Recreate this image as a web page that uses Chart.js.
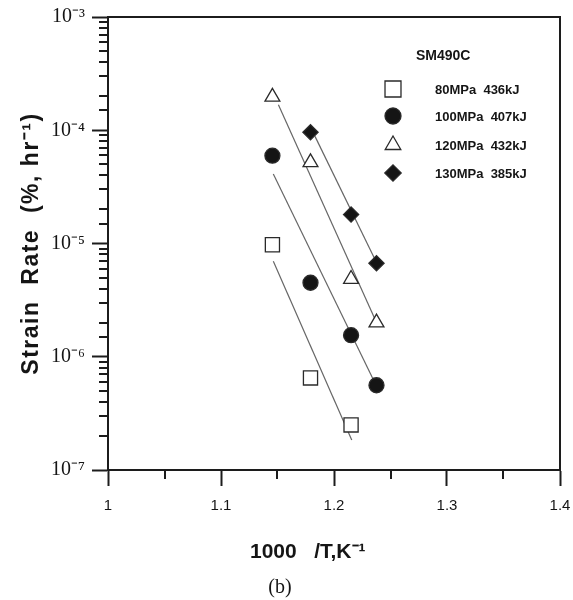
<!DOCTYPE html>
<html>
<head>
<meta charset="utf-8">
<script src="https://cdn.jsdelivr.net/npm/chart.js@4.4.1/dist/chart.umd.min.js"></script>
<style>
html, body { margin: 0; padding: 0; background: #fff; }
</style>
</head>
<body>
<canvas id="creep" width="573" height="600"></canvas>
<script>
// creep strain rate vs 1000/T, SM490C
const legendTitle = "SM490C";
const seriesLabels = ["80MPa  436kJ", "100MPa  407kJ", "120MPa  432kJ", "130MPa  385kJ"];

// 1000/T values (K^-1) and strain rates (%/hr)
const invT80 = [1.1455, 1.1792, 1.2151];
const rate80 = [9.75e-6, 6.5e-7, 2.5e-7];
const invT100 = [1.1455, 1.1792, 1.2151, 1.2376];
const rate100 = [5.96e-5, 4.5e-6, 1.55e-6, 5.6e-7];
const invT120 = [1.1455, 1.1792, 1.2151, 1.2376];
const rate120 = [1.97e-4, 5.2e-5, 4.85e-6, 2.0e-6];
const invT130 = [1.1792, 1.2151, 1.2376];
const rate130 = [9.6e-5, 1.8e-5, 6.7e-6];

// fitted lines, start and end
const fitX80 = [1.1463, 1.2157];
const fitY80 = [6.98e-6, 1.84e-7];
const fitX100 = [1.1463, 1.2354];
const fitY100 = [4.11e-5, 6.12e-7];
const fitX120 = [1.1508, 1.2357];
const fitY120 = [1.68e-4, 2.21e-6];
const fitX130 = [1.1832, 1.2363];
const fitY130 = [8.83e-5, 7.23e-6];

const xTicks = [1, 1.1, 1.2, 1.3, 1.4];
const yTicks = [1e-7, 1e-6, 1e-5, 1e-4, 1e-3];
const yTickLabels = ["10\u207B\u2077", "10\u207B\u2076", "10\u207B\u2075", "10\u207B\u2074", "10\u207B\u00B3"];

const INK = "#151515";
const AXIS = "#1c1c1c";
const SANS = '"Liberation Sans", Arial, sans-serif';
const SERIF = '"Liberation Serif", "Times New Roman", serif';

function pts(xs, ys) {
    return xs.map((v, i) => ({ x: v, y: ys[i] }));
}

const markers = [
    { style: "rect", radius: 10, fill: "#fff", legendRadius: 11.3 },
    { style: "circle", radius: 7.5, fill: INK, legendRadius: 8 },
    { style: "triangle", radius: 8.6, fill: "#fff", legendRadius: 9 },
    { style: "rectRot", radius: 7.6, fill: INK, legendRadius: 8.2 }
];

const pointData = [pts(invT80, rate80), pts(invT100, rate100), pts(invT120, rate120), pts(invT130, rate130)];
const fitData = [pts(fitX80, fitY80), pts(fitX100, fitY100), pts(fitX120, fitY120), pts(fitX130, fitY130)];

const datasets = [];
pointData.forEach((d, i) => {
    datasets.push({
        label: seriesLabels[i],
        data: d,
        pointStyle: markers[i].style,
        pointRadius: markers[i].radius,
        pointBackgroundColor: markers[i].fill,
        pointBorderColor: "#2a2a2a",
        pointBorderWidth: 1.3,
        showLine: false
    });
});
fitData.forEach((d, i) => {
    datasets.push({
        label: "fit " + seriesLabels[i],
        data: d,
        showLine: true,
        pointRadius: 0,
        borderColor: "#666",
        borderWidth: 1.2,
        fill: false
    });
});

function isDecade(v) {
    const l = Math.log10(v);
    return Math.abs(l - Math.round(l)) < 1e-6;
}
function isTenth(v) {
    return Math.abs(v * 10 - Math.round(v * 10)) < 1e-6;
}

// minor ticks + top/right frame
const axisExtras = {
    id: "axisExtras",
    afterDraw(chart) {
        const { ctx, chartArea: a, scales: { x, y } } = chart;
        ctx.save();
        ctx.strokeStyle = AXIS;
        ctx.lineWidth = 2;
        ctx.beginPath();
        y.ticks.forEach(t => {
            if (!isDecade(t.value)) {
                const py = Math.round(y.getPixelForValue(t.value));
                ctx.moveTo(a.left - 9, py);
                ctx.lineTo(a.left, py);
            }
        });
        x.ticks.forEach(t => {
            if (!isTenth(t.value)) {
                const px = Math.round(x.getPixelForValue(t.value));
                ctx.moveTo(px, a.bottom);
                ctx.lineTo(px, a.bottom + 9);
            }
        });
        ctx.moveTo(a.left, a.top);
        ctx.lineTo(a.right, a.top);
        ctx.lineTo(a.right, a.bottom);
        ctx.stroke();
        ctx.restore();
    }
};

// legend inside the plot, like the original
const legendBox = {
    id: "legendBox",
    afterDraw(chart) {
        const ctx = chart.ctx;
        const rows = [89, 116, 145, 173];
        ctx.save();
        ctx.fillStyle = INK;
        ctx.textBaseline = "middle";
        ctx.textAlign = "left";
        ctx.font = "bold 14px " + SANS;
        ctx.fillText(legendTitle, 416, 56);
        ctx.font = "bold 13px " + SANS;
        seriesLabels.forEach((lab, i) => {
            ctx.fillStyle = markers[i].fill;
            ctx.strokeStyle = "#2a2a2a";
            ctx.lineWidth = 1.3;
            Chart.helpers.drawPoint(ctx, {
                pointStyle: markers[i].style,
                radius: markers[i].legendRadius,
                rotation: 0,
                borderWidth: 1.3
            }, 393, rows[i]);
            ctx.fillStyle = INK;
            ctx.fillText(lab, 435, rows[i] + 1);
        });
        ctx.restore();
    }
};

const chart = new Chart(document.getElementById("creep"), {
    type: "scatter",
    data: { datasets: datasets },
    plugins: [axisExtras, legendBox],
    options: {
        responsive: false,
        animation: false,
        layout: { padding: { top: 17, right: 13, left: 0, bottom: 0 } },
        plugins: {
            legend: { display: false },
            tooltip: { enabled: false },
            subtitle: {
                display: true,
                position: "bottom",
                text: "(b)",
                color: INK,
                font: { family: SERIF, size: 20, weight: "normal" },
                padding: { top: 4, bottom: 0 }
            }
        },
        scales: {
            x: {
                type: "linear",
                min: 1,
                max: 1.4,
                afterFit: s => { s.height = 102; s.paddingLeft = 0; s.paddingRight = 0; },
                ticks: {
                    stepSize: 0.05,
                    autoSkip: false,
                    maxRotation: 0,
                    padding: 11,
                    color: INK,
                    font: { family: SANS, size: 15 },
                    callback: v => {
                        const hit = xTicks.find(t => Math.abs(t - v) < 1e-6);
                        return hit === undefined ? "" : String(hit);
                    }
                },
                grid: {
                    drawOnChartArea: false,
                    tickLength: 16,
                    tickWidth: 2,
                    tickColor: c => (c.tick && isTenth(c.tick.value)) ? AXIS : "rgba(0,0,0,0)"
                },
                border: { display: true, color: AXIS, width: 2 },
                title: {
                    display: true,
                    text: "1000   /T,K\u207B\u00B9\u2003\u2003\u2002",
                    color: INK,
                    font: { family: SANS, size: 21, weight: "bold" },
                    padding: { top: 0, bottom: 7 }
                }
            },
            y: {
                type: "logarithmic",
                min: 1e-7,
                max: 1e-3,
                afterFit: s => { s.width = 108; s.paddingTop = 0; s.paddingBottom = 0; },
                ticks: {
                    autoSkip: false,
                    padding: 7,
                    color: INK,
                    font: { family: SERIF, size: 20 },
                    callback: v => {
                        const i = yTicks.findIndex(t => Math.abs(Math.log10(t) - Math.log10(v)) < 1e-6);
                        return i < 0 ? "" : yTickLabels[i];
                    }
                },
                grid: {
                    drawOnChartArea: false,
                    tickLength: 16,
                    tickWidth: 2,
                    tickColor: c => (c.tick && isDecade(c.tick.value)) ? AXIS : "rgba(0,0,0,0)"
                },
                border: { display: true, color: AXIS, width: 2 },
                title: {
                    display: true,
                    text: "Strain  Rate  (%, hr\u207B\u00B9)",
                    color: INK,
                    font: { family: SANS, size: 23, weight: "bold" },
                    padding: { top: 18, bottom: 0 }
                }
            }
        }
    }
});

// the original y title is tracked out a little
const yScale = chart.scales.y;
const baseTitle = yScale.drawTitle.bind(yScale);
yScale.drawTitle = function () {
    this.ctx.save();
    this.ctx.letterSpacing = "1.5px";
    baseTitle();
    this.ctx.restore();
};
chart.draw();
</script>
</body>
</html>
